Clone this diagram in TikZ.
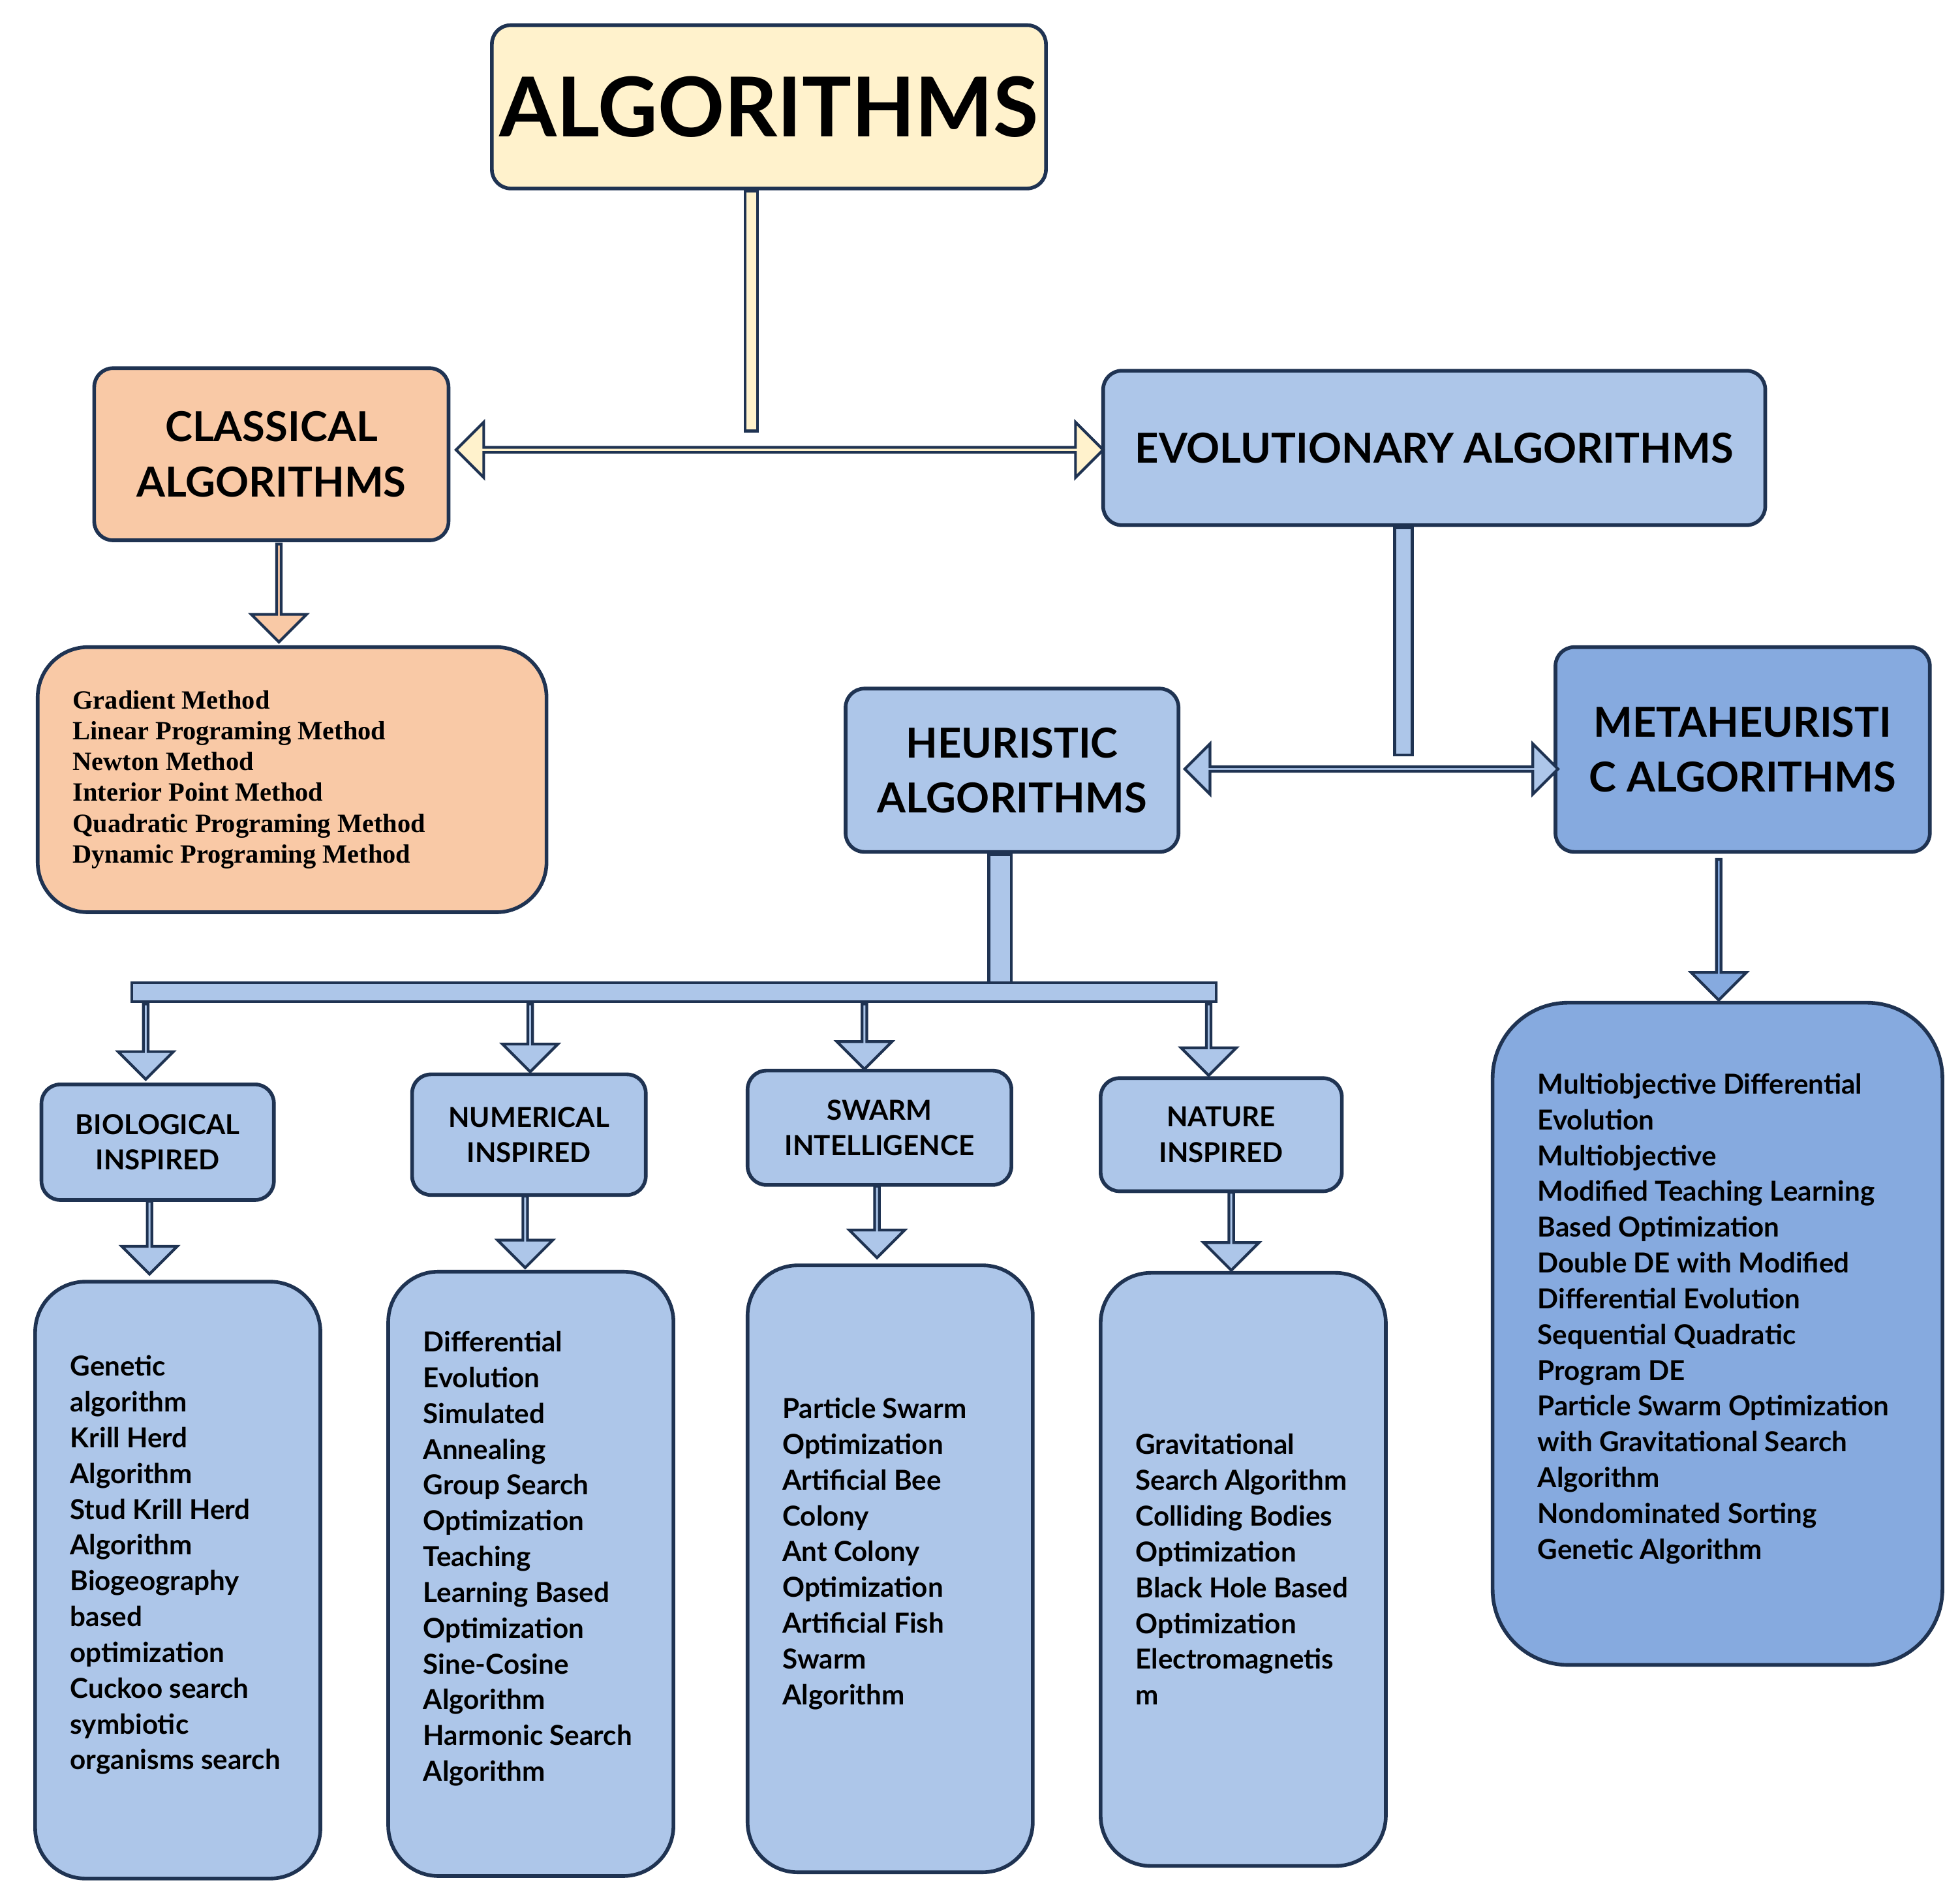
\documentclass[tikz,border=0pt]{standalone}
\usepackage{fontspec}
\setmainfont{Lato}
\newfontfamily\listserif{Liberation Serif}
\usetikzlibrary{shapes.arrows}
\definecolor{edge}{HTML}{1F3352}
\definecolor{peach}{HTML}{F9C9A6}
\definecolor{cream}{HTML}{FFF2CC}
\definecolor{lblue}{HTML}{ADC6E9}
\definecolor{dblue}{HTML}{86AADF}
\def\u{0.01926cm}
\tikzset{
  box/.style={draw=edge, line width=1.6pt, rounded corners={15*\u}},
  bigbox/.style={box, rounded corners={40*\u}},
  head/.style={font=\bfseries\fontsize{18}{24}\selectfont, align=center},
  small/.style={font=\bfseries\fontsize{12}{15.4}\selectfont, align=center},
  items/.style={font=\bfseries\fontsize{12}{15.6}\selectfont, align=left, anchor=west, inner sep=0pt},
  down/.style={single arrow, shape border rotate=270, draw=edge, line width=1.2pt, inner sep=0pt,
    minimum width={44*\u}, single arrow head extend={12*\u}, single arrow head indent=0pt},
  bar/.style={draw=edge, line width=1.2pt}
}
\begin{document}
\begin{tikzpicture}[x=\u, y=-\u]
\useasboundingbox (0,0) rectangle (1560,1506);

% boxes
\node[box, fill=cream, minimum width={440*\u}, minimum height={130*\u}, font=\bfseries\fontsize{36}{40}\selectfont] (alg) at (612,85) {ALGORITHMS};
\node[box, fill=peach, minimum width={282*\u}, minimum height={137*\u}, head] (cls) at (216,361.5) {CLASSICAL\\ALGORITHMS};
\node[box, fill=lblue, minimum width={527*\u}, minimum height={123*\u}, head] (evo) at (1141.5,356.5) {EVOLUTIONARY ALGORITHMS};
\node[bigbox, fill=peach, minimum width={405*\u}, minimum height={211*\u}] (clsl) at (232.5,620.5) {};
\node[box, fill=lblue, minimum width={265*\u}, minimum height={130*\u}, head] (heu) at (805.5,613) {HEURISTIC\\ALGORITHMS};
\node[box, fill=dblue, minimum width={298*\u}, minimum height={163*\u}, head] (meta) at (1387,596.5) {METAHEURISTI\\C ALGORITHMS};
\node[box, fill=lblue, minimum width={185*\u}, minimum height={92*\u}, small] (bio) at (125.5,909) {BIOLOGICAL\\INSPIRED};
\node[box, fill=lblue, minimum width={186*\u}, minimum height={96*\u}, small] (num) at (421,903) {NUMERICAL\\INSPIRED};
\node[box, fill=lblue, minimum width={210*\u}, minimum height={91*\u}, small] (swm) at (700,897.5) {SWARM\\INTELLIGENCE};
\node[box, fill=lblue, minimum width={192*\u}, minimum height={90*\u}, small] (nat) at (972,903) {NATURE\\INSPIRED};
\node[bigbox, fill=lblue, minimum width={227*\u}, minimum height={475*\u}] (biol) at (141.5,1257.5) {};
\node[bigbox, fill=lblue, minimum width={227*\u}, minimum height={481*\u}] (numl) at (422.5,1252.5) {};
\node[bigbox, fill=lblue, minimum width={227*\u}, minimum height={483*\u}] (swml) at (708.5,1248.5) {};
\node[bigbox, fill=lblue, minimum width={227*\u}, minimum height={472*\u}] (natl) at (989.5,1249) {};
\node[bigbox, fill=dblue, minimum width={358*\u}, minimum height={527*\u}, rounded corners={60*\u}] (metal) at (1367,1061.5) {};

% list texts
\node[items, font=\listserif\bfseries\fontsize{11.5}{13.4}\selectfont] at ([xshift={29*\u}]clsl.west) {Gradient Method\\Linear Programing Method\\Newton Method\\Interior Point Method\\Quadratic Programing Method\\Dynamic Programing Method};
\node[items] at ([xshift={29*\u},yshift={12*\u}]biol.west) {Genetic\\algorithm\\Krill Herd\\Algorithm\\Stud Krill Herd\\Algorithm\\Biogeography\\based\\optimization\\Cuckoo search\\symbiotic\\organisms search};
\node[items] at ([xshift={29*\u},yshift={12*\u}]numl.west) {Differential\\Evolution\\Simulated\\Annealing\\Group Search\\Optimization\\Teaching\\Learning Based\\Optimization\\Sine-Cosine\\Algorithm\\Harmonic Search\\Algorithm};
\node[items] at ([xshift={29*\u},yshift={12*\u}]swml.west) {Particle Swarm\\Optimization\\Artificial Bee\\Colony\\Ant Colony\\Optimization\\Artificial Fish\\Swarm\\Algorithm};
\node[items] at ([xshift={29*\u}]natl.west) {Gravitational\\Search Algorithm\\Colliding Bodies\\Optimization\\Black Hole Based\\Optimization\\Electromagnetis\\m};
\node[items] at ([xshift={37*\u},yshift={12*\u}]metal.west) {Multiobjective Differential\\Evolution\\Multiobjective\\Modified Teaching Learning\\Based Optimization\\Double DE with Modified\\Differential Evolution\\Sequential Quadratic\\Program DE\\Particle Swarm Optimization\\with Gravitational Search\\Algorithm\\Nondominated Sorting\\Genetic Algorithm};

% bars
\draw[bar, fill=cream] (593,152) rectangle (603,343);
\draw[bar, fill=lblue] (1110,420) rectangle (1124,601);
\draw[bar, fill=lblue] (787,680) rectangle (805,782);
\draw[bar, fill=lblue] (105,782) rectangle (968,797);

% block arrows
\node[double arrow, draw=edge, line width=1.2pt, fill=cream, inner sep=0pt, minimum width={44*\u},
  double arrow head extend={11*\u}, minimum height={515*\u}] (top) at (620.5,358) {};
\node[double arrow, draw=edge, line width=1.2pt, fill=lblue, inner sep=0pt, minimum width={40*\u},
  double arrow head extend={11*\u}, minimum height={297*\u}] (mid) at (1091.5,612) {};
\node[down, fill=peach, minimum height={78*\u}] at (222,471) {};
\node[down, fill=lblue, minimum height={60*\u}] at (116,828) {};
\node[down, fill=lblue, minimum height={54*\u}] at (422,825) {};
\node[down, fill=lblue, minimum height={52*\u}] at (688,824) {};
\node[down, fill=lblue, minimum height={57*\u}] at (962,826.5) {};
\node[down, fill=lblue, minimum height={58*\u}] at (119,984) {};
\node[down, fill=lblue, minimum height={57*\u}] at (418,979.5) {};
\node[down, fill=lblue, minimum height={57*\u}] at (698,971.5) {};
\node[down, fill=lblue, minimum height={62*\u}] at (980,979) {};
\node[down, fill=dblue, minimum height={112*\u}] at (1368,739) {};
\end{tikzpicture}
\end{document}
